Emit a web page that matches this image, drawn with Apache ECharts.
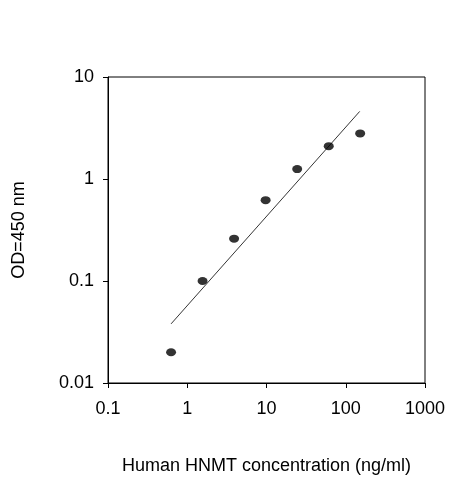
<!DOCTYPE html>
<html><head><meta charset="utf-8">
<script src="https://cdn.jsdelivr.net/npm/echarts@6/dist/echarts.min.js"></script>
<style>html,body{margin:0;padding:0;background:#fff}#c{width:463px;height:480px}</style>
</head><body><div id="c"></div>
<script>
const concentrations = [0.625, 1.56, 3.9, 9.75, 24.4, 61, 152];
const odValues = [0.02, 0.10, 0.26, 0.62, 1.25, 2.1, 2.8];
const fitX = [0.625, 150];
const fitY = [0.038, 4.6];
const chart = echarts.init(document.getElementById('c'));
const font = 'Liberation Sans';
chart.setOption({
  animation: false,
  grid: {left: 108, right: 38, top: 77, bottom: 96, show: true, borderColor: '#000', borderWidth: 1},
  xAxis: {type: 'log', min: 0.1, max: 1000, logBase: 10,
    name: 'Human HNMT concentration (ng/ml)', nameLocation: 'middle', nameGap: 74,
    nameTextStyle: {fontFamily: font, fontSize: 18, color: '#000'},
    axisLine: {lineStyle: {color: '#000'}}, axisTick: {inside: false, length: 5, lineStyle: {color: '#000'}},
    splitLine: {show: false}, minorTick: {show: false},
    axisLabel: {fontFamily: font, fontSize: 18, color: '#000', margin: 17,
      formatter: v => String(+v.toPrecision(3))}},
  yAxis: {type: 'log', min: 0.01, max: 10, logBase: 10,
    name: 'OD=450 nm', nameLocation: 'middle', nameGap: 80,
    nameTextStyle: {fontFamily: font, fontSize: 18, color: '#000'},
    axisLine: {lineStyle: {color: '#000'}}, axisTick: {inside: false, length: 5, lineStyle: {color: '#000'}},
    splitLine: {show: false},
    axisLabel: {fontFamily: font, fontSize: 18, color: '#000', margin: 14,
      formatter: v => String(+v.toPrecision(3))}},
  series: [
    {type: 'scatter', data: concentrations.map((x, i) => [x, odValues[i]]),
      symbol: 'circle', symbolSize: [10, 8], itemStyle: {color: '#000'}},
    {type: 'line', data: fitX.map((x, i) => [x, fitY[i]]), symbol: 'none',
      lineStyle: {color: '#000', width: 0.8}}
  ]
});
</script></body></html>
